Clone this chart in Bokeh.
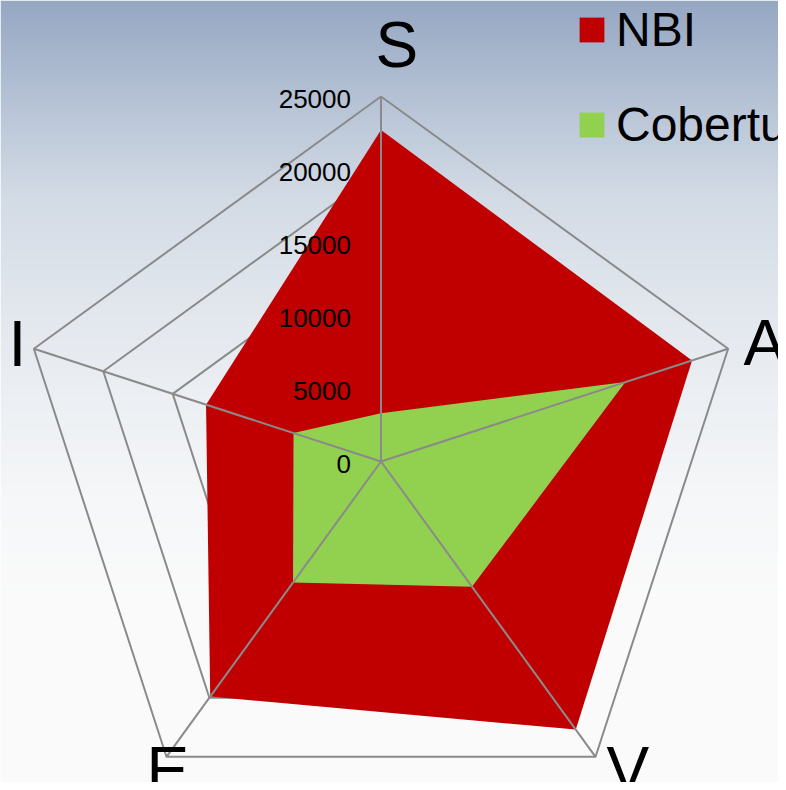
import numpy as np
from bokeh.plotting import figure
from bokeh.models import Range1d, Legend, LegendItem
from bokeh.core.properties import value
from bokeh.embed import file_html
from bokeh.resources import INLINE

# ---- data ----
categories = ["S", "A", "V", "E", "I"]
nbi = [22700, 22400, 22700, 19900, 12600]
cobertura = [3300, 17600, 10600, 10250, 6300]
tick_values = [0, 5000, 10000, 15000, 20000, 25000]
tick_labels = ["0", "5000", "10000", "15000", "20000", "25000"]
max_value = 25000

# ---- layout ----
W, H = 778, 782
cx_px, cy_px, R_px = 380.5, 461.0, 365.0
k = max_value / R_px
x0 = (0 - cx_px) * k
x1 = (W - cx_px) * k
y0 = (cy_px - H) * k
y1 = (cy_px - 0) * k

FONT = "Liberation Sans"

p = figure(width=W, height=H, x_range=Range1d(x0, x1), y_range=Range1d(y0, y1),
           output_backend="svg", toolbar_location=None, min_border=0,
           x_axis_location=None, y_axis_location=None,
           border_fill_color="white", outline_line_color=None)
p.grid.visible = False

# background gradient (decoration)
stop_y = [0, 60, 120, 200, 300, 400, 500, 600, 800]
stop_c = np.array([(150, 167, 194), (168, 183, 205), (188, 200, 217), (211, 219, 229),
                   (225, 230, 237), (236, 239, 243), (245, 247, 248), (250, 250, 250),
                   (250, 250, 250)], dtype=float)
rows = np.arange(H) + 0.5
img = np.empty((H, 1), dtype=np.uint32)
view = img.view(dtype=np.uint8).reshape((H, 1, 4))
for ch in range(3):
    view[:, 0, ch] = np.interp(rows, stop_y, stop_c[:, ch]).round().astype(np.uint8)
view[:, 0, 3] = 255
img = img[::-1]
p.image_rgba(image=[img], x=x0, y=y0, dw=x1 - x0, dh=y1 - y0)

# angles
n = len(categories)
ang = np.deg2rad(90 - 72 * np.arange(n))
cosa, sina = np.cos(ang), np.sin(ang)

GRID = "#8a8a8a"
for lv in tick_values[1:]:
    xs = list(lv * cosa) + [lv * cosa[0]]
    ys = list(lv * sina) + [lv * sina[0]]
    p.line(xs, ys, line_color=GRID, line_width=2)

nv = np.array(nbi, dtype=float)
cv = np.array(cobertura, dtype=float)
r_nbi = p.patch(list(nv * cosa), list(nv * sina), fill_color="#c00000", line_color=None)
r_cob = p.patch(list(cv * cosa), list(cv * sina), fill_color="#92d050", line_color=None)

# spokes on top
p.segment(x0=[0] * n, y0=[0] * n, x1=list(max_value * cosa), y1=list(max_value * sina),
          line_color=GRID, line_width=2)

# tick labels
p.text(x=[0] * len(tick_values), y=tick_values, text=tick_labels,
       x_offset=-30, y_offset=2, text_align="right", text_baseline="middle",
       text_font=value(FONT), text_font_size="26px", text_color="black")

# category labels
lx_off = [-5.5, 15.4, 11, -20, -25.4]
ly_off = [-51.5, -6, 13, 13, -5]
p.text(x=list(max_value * cosa), y=list(max_value * sina), text=categories,
       x_offset=lx_off, y_offset=ly_off, text_align="left", text_baseline="middle",
       text_font=value(FONT), text_font_size="64px", text_color="black")

legend = Legend(items=[LegendItem(label="NBI", renderers=[r_nbi]),
                       LegendItem(label="Cobertura", renderers=[r_cob])],
                location=(576, H - 152.5))
legend.background_fill_alpha = 0
legend.border_line_color = None
legend.label_text_font = FONT
legend.label_text_font_size = "48px"
legend.label_text_color = "black"
legend.glyph_width = 31
legend.glyph_height = 31
legend.label_height = 56
legend.label_standoff = 9
legend.spacing = 39
legend.padding = 0
legend.margin = 0
p.add_layout(legend)

open("out.html", "w").write(file_html(p, INLINE))
